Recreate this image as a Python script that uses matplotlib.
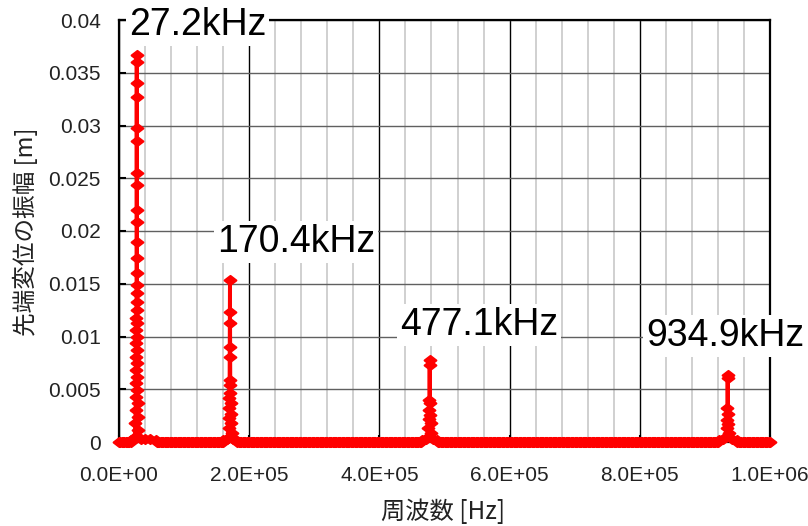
import numpy as np
import matplotlib
matplotlib.use("Agg")
import matplotlib.pyplot as plt
from matplotlib.ticker import MultipleLocator, FuncFormatter
from matplotlib.path import Path

# resonance peaks: label text and centre frequency
peak_labels = ["27.2kHz", "170.4kHz", "477.1kHz", "934.9kHz"]
peak_hz = [27.2e3, 170.4e3, 477.1e3, 934.9e3]

# sweep points around each resonance (offset from centre in kHz, amplitude in m)
peak1_df_khz = [-9.0, -6.0, -3.0, -2.2, -1.6, -1.2, -0.95, -0.75, -0.6, -0.5, -0.42,
                -0.36, -0.30, -0.25, -0.20, -0.16, -0.12, -0.08, -0.04, -0.01, 0.0,
                0.03, 0.06, 0.10, 0.14, 0.18, 0.22, 0.27, 0.33, 0.39, 0.46, 0.55,
                0.68, 0.85, 1.1, 1.4, 1.9, 2.6, 6.0, 12.0, 20.0, 30.0]
peak1_amp = [0.0002, 0.0003, 0.0005, 0.0018, 0.0030, 0.0043, 0.0056, 0.0068, 0.0081,
             0.0094, 0.0106, 0.0118, 0.0133, 0.0149, 0.0174, 0.0209, 0.0244, 0.0285,
             0.0327, 0.0360, 0.0367, 0.0340, 0.0298, 0.0255, 0.0220, 0.0190, 0.0160,
             0.0141, 0.0125, 0.0113, 0.0100, 0.0087, 0.0075, 0.0062, 0.0049, 0.0037,
             0.0024, 0.0011, 0.0003, 0.0003, 0.0003, 0.0002]

peak2_df_khz = [-10.0, -5.0, -3.5, -2.0, -1.4, -1.0, -0.8, -0.55, -0.35, -0.2, 0.0,
                0.15, 0.3, 0.45, 0.65, 0.9, 1.2, 1.7, 2.6, 5.0, 10.0]
peak2_amp = [0.0002, 0.0003, 0.0004, 0.0013, 0.0023, 0.0032, 0.0042, 0.0054, 0.0081,
             0.0113, 0.01536, 0.01235, 0.0090, 0.00588, 0.0046, 0.0037, 0.0027,
             0.0018, 0.0009, 0.0003, 0.0002]

peak3_df_khz = [-12.0, -6.0, -3.0, -1.8, -1.1, -0.7, -0.35, 0.0, 0.2, 0.5, 0.9, 1.4,
                2.4, 6.0, 12.0]
peak3_amp = [0.0002, 0.0003, 0.0005, 0.0013, 0.0022, 0.0030, 0.0040, 0.0078, 0.0073,
             0.0037, 0.0026, 0.0018, 0.0009, 0.0003, 0.0002]

peak4_df_khz = [-14.0, -7.0, -3.0, -1.6, -0.9, -0.45, -0.05, 0.0, 0.6, 1.2, 2.2, 7.0,
                14.0]
peak4_amp = [0.0002, 0.0003, 0.0005, 0.0013, 0.0021, 0.0032, 0.0061, 0.00635, 0.0027,
             0.0017, 0.0009, 0.0003, 0.0002]

# coarse sweep away from the resonances (amplitude ~0)
sweep_step_hz = 2e3
sweep_max_hz = 1.0e6

# label anchor positions (Hz, m)
label_pos = [(121e3, 0.0395), (272e3, 0.0190), (553e3, 0.0111), (931e3, 0.01005)]

# ---- assemble the sweep ----
peaks = [(peak1_df_khz, peak1_amp), (peak2_df_khz, peak2_amp),
         (peak3_df_khz, peak3_amp), (peak4_df_khz, peak4_amp)]
coarse_f = np.arange(0, sweep_max_hz + 1, sweep_step_hz)
keep = np.ones(coarse_f.size, bool)
fs, amps = [], []
for f0, (df, a) in zip(peak_hz, peaks):
    f = f0 + np.array(df) * 1e3
    keep &= ~((coarse_f >= f.min()) & (coarse_f <= f.max()))
    fs.append(f)
    amps.append(np.array(a))
fs.append(coarse_f[keep])
amps.append(np.zeros(keep.sum()))
freq = np.concatenate(fs)
amp = np.concatenate(amps)
order = np.argsort(freq)
freq, amp = freq[order], amp[order]

# ---- figure ----
fig = plt.figure(figsize=(8.08, 5.26), dpi=100)
ax = fig.add_axes([119 / 808, 1 - 442 / 526, 651 / 808, 422 / 526])

# wide diamond marker
diamond = Path([(-1.3, 0), (0, 1), (1.3, 0), (0, -1), (-1.3, 0)],
               [Path.MOVETO, Path.LINETO, Path.LINETO, Path.LINETO, Path.CLOSEPOLY])
ax.plot(freq, amp, color="#ff0000", lw=2.8, marker=diamond, ms=8.5, mew=1.5,
        mec="#ff0000", mfc="#ff0000", clip_on=False, zorder=4)

ax.set_xlim(0, 1.0e6)
ax.set_ylim(0, 0.04)
ax.xaxis.set_major_locator(MultipleLocator(2e5))
ax.xaxis.set_minor_locator(MultipleLocator(4e4))
ax.yaxis.set_major_locator(MultipleLocator(0.005))
ax.xaxis.set_major_formatter(FuncFormatter(lambda v, p: "%.1E" % v))
ax.yaxis.set_major_formatter(FuncFormatter(lambda v, p: "%g" % round(v, 4)))

ax.grid(which="minor", axis="x", color="#c8c8c8", lw=1.2, zorder=1)
ax.grid(which="major", axis="x", color="black", lw=1.0, zorder=2)
ax.grid(which="major", axis="y", color="#606060", lw=1.0, zorder=2)
ax.set_axisbelow(True)

ax.tick_params(which="major", direction="in", length=5, width=1.5, color="black",
               labelsize=15, labelcolor="#222222")
ax.tick_params(axis="y", pad=13)
ax.tick_params(axis="x", pad=17)
ax.tick_params(which="minor", length=0)
for lab in ax.get_xticklabels() + ax.get_yticklabels():
    lab.set_family("Liberation Sans")
for sp in ax.spines.values():
    sp.set_linewidth(1.6)
    sp.set_color("black")

for text, (x, y) in zip(peak_labels, label_pos):
    ax.text(x, y, text, ha="center", va="center", fontsize=27,
            family="Liberation Sans", zorder=6,
            bbox=dict(boxstyle="square,pad=0.08", fc="white", ec="none"))

cjk = ["Noto Sans CJK JP", "DejaVu Sans"]
fig.text(25 / 808, 1 - 232 / 526, "先端変位の振幅 [m]", rotation=90,
         ha="center", va="center", fontsize=17, family=cjk, color="#222222")
fig.text(443 / 808, 1 - 512 / 526, "周波数 [Hz]", ha="center", va="center",
         fontsize=17.5, family=cjk, color="#222222")

fig.savefig("out.png", dpi=100)
